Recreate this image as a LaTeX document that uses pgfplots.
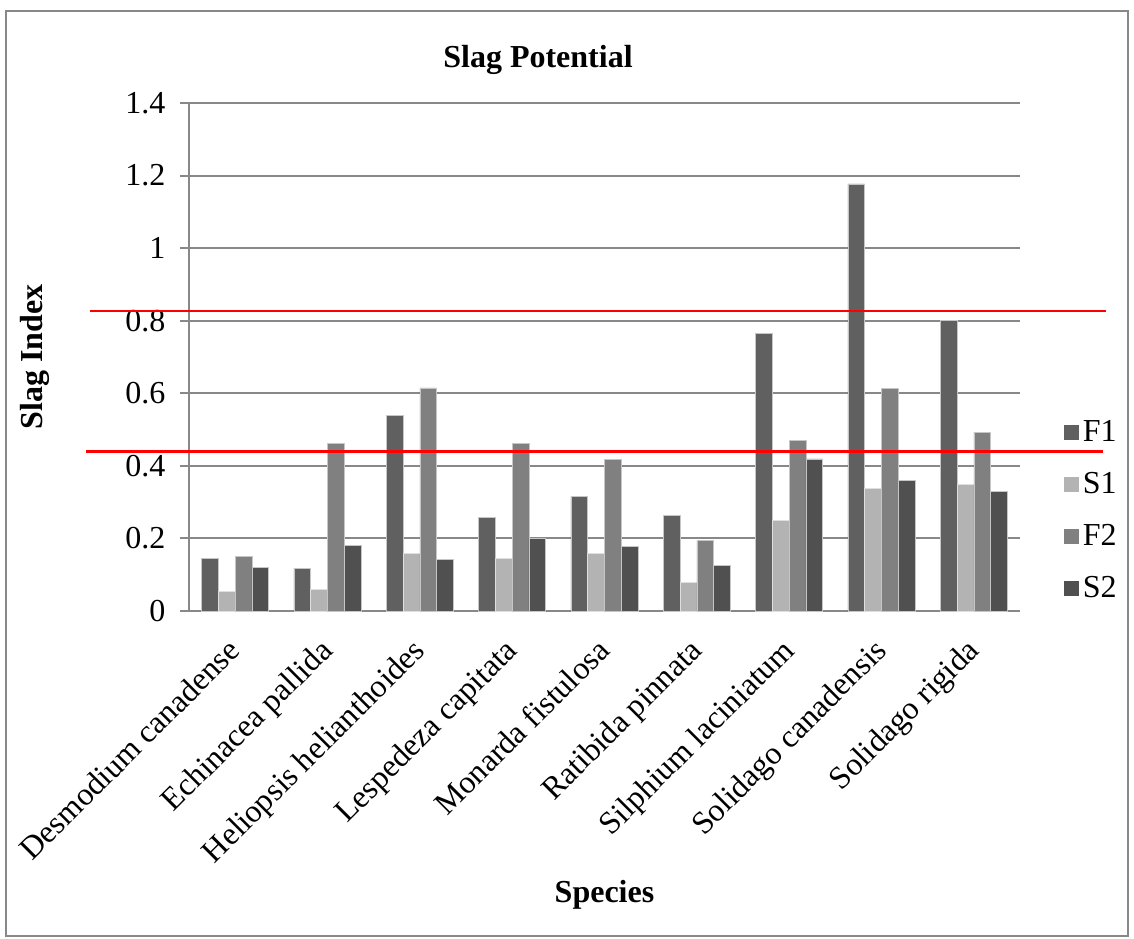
\documentclass[border=0pt]{standalone}
\usepackage{pgfplots}
\pgfplotsset{compat=1.18}
\usepackage{pgfplotstable}
\usepackage{fontspec}
\setmainfont{Liberation Serif}

\definecolor{cF1}{HTML}{606060}
\definecolor{cS1}{HTML}{B3B3B3}
\definecolor{cF2}{HTML}{808080}
\definecolor{cS2}{HTML}{505050}
\definecolor{gridgray}{HTML}{888888}

% Slag index per species (F1, S1, F2, S2)
\pgfplotstableread{
idx F1    S1    F2    S2
0   0.145 0.053 0.151 0.120
1   0.118 0.060 0.461 0.180
2   0.539 0.158 0.615 0.142
3   0.258 0.144 0.461 0.199
4   0.316 0.159 0.417 0.177
5   0.263 0.078 0.194 0.125
6   0.766 0.249 0.470 0.419
7   1.177 0.337 0.614 0.361
8   0.800 0.350 0.493 0.329
}\slagdata

\begin{document}
\begin{tikzpicture}
\useasboundingbox (0,0) rectangle (567pt,469pt);
\draw[gridgray, line width=1pt] (3pt,1pt) rectangle (564pt,463.5pt);
\begin{axis}[
  at={(94.5pt,163.5pt)}, anchor=south west,
  scale only axis, width=415.5pt, height=254pt,
  ybar=0pt, bar width=8.375pt,
  xmin=-0.5, xmax=8.5, ymin=0, ymax=1.4,
  ytick={0,0.2,...,1.4},
  xtick=data,
  xticklabels={Desmodium canadense, Echinacea pallida, Heliopsis helianthoides, Lespedeza capitata, Monarda fistulosa, Ratibida pinnata, Silphium laciniatum, Solidago canadensis, Solidago rigida},
  axis lines*=left,
  axis line style={-, draw=gridgray, line width=1pt},
  ymajorgrids, grid style={draw=gridgray, line width=1pt},
  xtick style={draw=none},
  ytick style={draw=gridgray, line width=1pt},
  tick align=outside, major tick length=4.5pt,
  /pgf/number format/assume math mode=true,
  yticklabel={\pgfmathprintnumber[fixed,precision=1]{\tick}},
  tick label style={font=\fontsize{16}{19}\selectfont},
  yticklabel style={xshift=-3.8pt},
  % shifts below act in the rotated frame of the label
  xticklabel style={rotate=45, anchor=north east, xshift=-5.6pt, yshift=0.8pt},
  xlabel={Species}, ylabel={Slag Index},
  every axis x label/.style={at={(rel axis cs:0.5,-0.559)}, anchor=center,
    font=\bfseries\fontsize{16}{19}\selectfont},
  every axis y label/.style={at={(rel axis cs:-0.1853,0.5)}, rotate=90, anchor=center,
    font=\bfseries\fontsize{16}{19}\selectfont},
  title={Slag Potential},
  every axis title shift=0pt,
  title style={at={(rel axis cs:0.42,1.0846)}, anchor=center, font=\bfseries\fontsize{16}{19}\selectfont},
  clip=false,
  legend style={at={(rel axis cs:1.045,0.392)}, anchor=north west, draw=none, fill=none,
    font=\fontsize{16}{19}\selectfont, row sep=10pt},
  legend cell align=left,
  legend image code/.code={\draw[#1, draw=none] (0pt,-3.75pt) rectangle (7.5pt,3.75pt);},
]
\addplot[fill=cF1, draw=gray!45, line width=0.3pt] table[x=idx, y=F1] {\slagdata};
\addplot[fill=cS1, draw=gray!25, line width=0.3pt] table[x=idx, y=S1] {\slagdata};
\addplot[fill=cF2, draw=gray!45, line width=0.3pt] table[x=idx, y=F2] {\slagdata};
\addplot[fill=cS2, draw=gray!45, line width=0.3pt] table[x=idx, y=S2] {\slagdata};
\legend{F1, S1, F2, S2}
% threshold lines
\draw[red, line width=1.3pt] (axis cs:-1.572,0.827) -- (axis cs:9.432,0.827);
\draw[red, line width=1.3pt] (axis cs:-1.616,0.4395) -- (axis cs:9.399,0.4395);
\end{axis}
\end{tikzpicture}
\end{document}
